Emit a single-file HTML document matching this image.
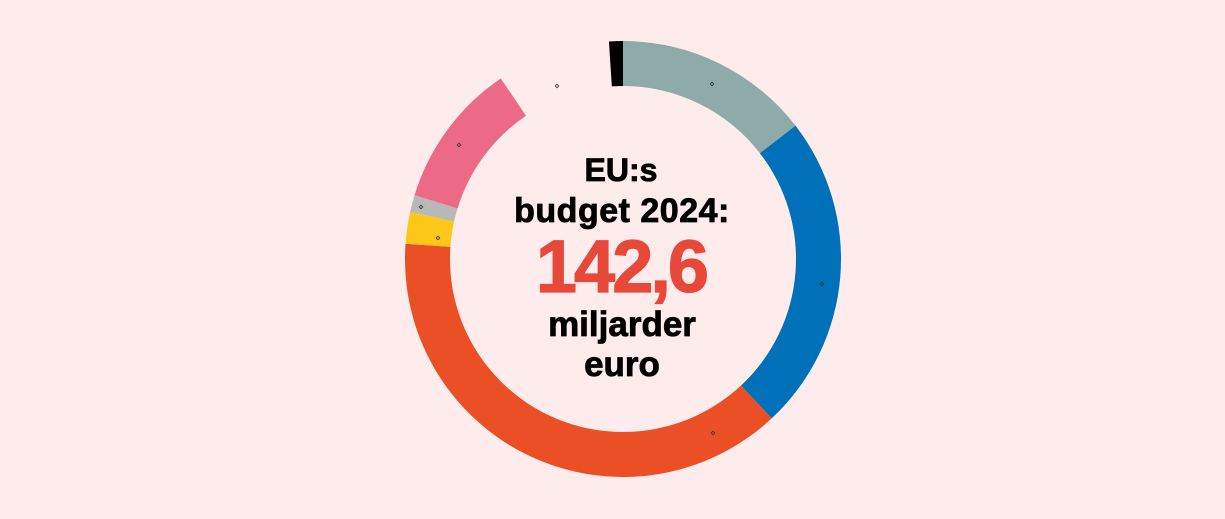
<!DOCTYPE html>
<html><head><meta charset="utf-8"><style>
html,body{margin:0;padding:0;background:#fdeceb;}
svg{display:block}
text{font-family:"Liberation Sans",sans-serif;font-weight:bold;text-anchor:middle}
</style></head><body>
<svg id="s" width="1225" height="519" viewBox="0 0 1225 519">
<rect width="1225" height="519" fill="#fdeceb"/>
<g id="g"></g>
<text x="621" y="181" font-size="32" fill="#000" stroke="#000" stroke-width="0.8">EU:s</text>
<text x="622" y="222" font-size="34" fill="#000" stroke="#000" stroke-width="0.8" letter-spacing="0.5">budget 2024:</text>
<text x="621" y="292" font-size="74" fill="#e8483a" stroke="#e8483a" stroke-width="1.2" letter-spacing="-3">142,6</text>
<text x="622" y="336" font-size="35" fill="#000" stroke="#000" stroke-width="0.8">miljarder</text>
<text x="622" y="376" font-size="35" fill="#000" stroke="#000" stroke-width="0.8">euro</text>
</svg>
<script>
var cx=623,cy=259,R=218,r=173;
var segs=[[-3.7,0,"#000"],[0,52.3,"#8eaaa9"],[52.3,137,"#0070b8"],[137,274,"#ea4f25"],[274,282.5,"#fdc81a"],[282.5,287,"#b8b8b8"],[287,325.9,"#ec6a85"]];
function p(a,rad){a=a*Math.PI/180;return [cx+rad*Math.sin(a),cy-rad*Math.cos(a)];}
var g=document.getElementById("g"),h="";
segs.forEach(function(s){var a=s[0],b=s[1],l=(b-a)>180?1:0;
var o1=p(a,R),o2=p(b,R),i2=p(b,r),i1=p(a,r);
h+='<path fill="'+s[2]+'" d="M'+o1+' A'+R+','+R+' 0 '+l+' 1 '+o2+' L'+i2+' A'+r+','+r+' 0 '+l+' 0 '+i1+'Z"/>';});
[[712,84],[822,284],[713,433],[557,86],[459,145],[421,207],[438,238]].forEach(function(d){
h+='<rect x="'+(d[0]-1.3)+'" y="'+(d[1]-1.3)+'" width="2.6" height="2.6" fill="none" stroke="#333" stroke-width="0.8" transform="rotate(45 '+d[0]+' '+d[1]+')"/>';});
g.innerHTML=h;
</script>
</body></html>
